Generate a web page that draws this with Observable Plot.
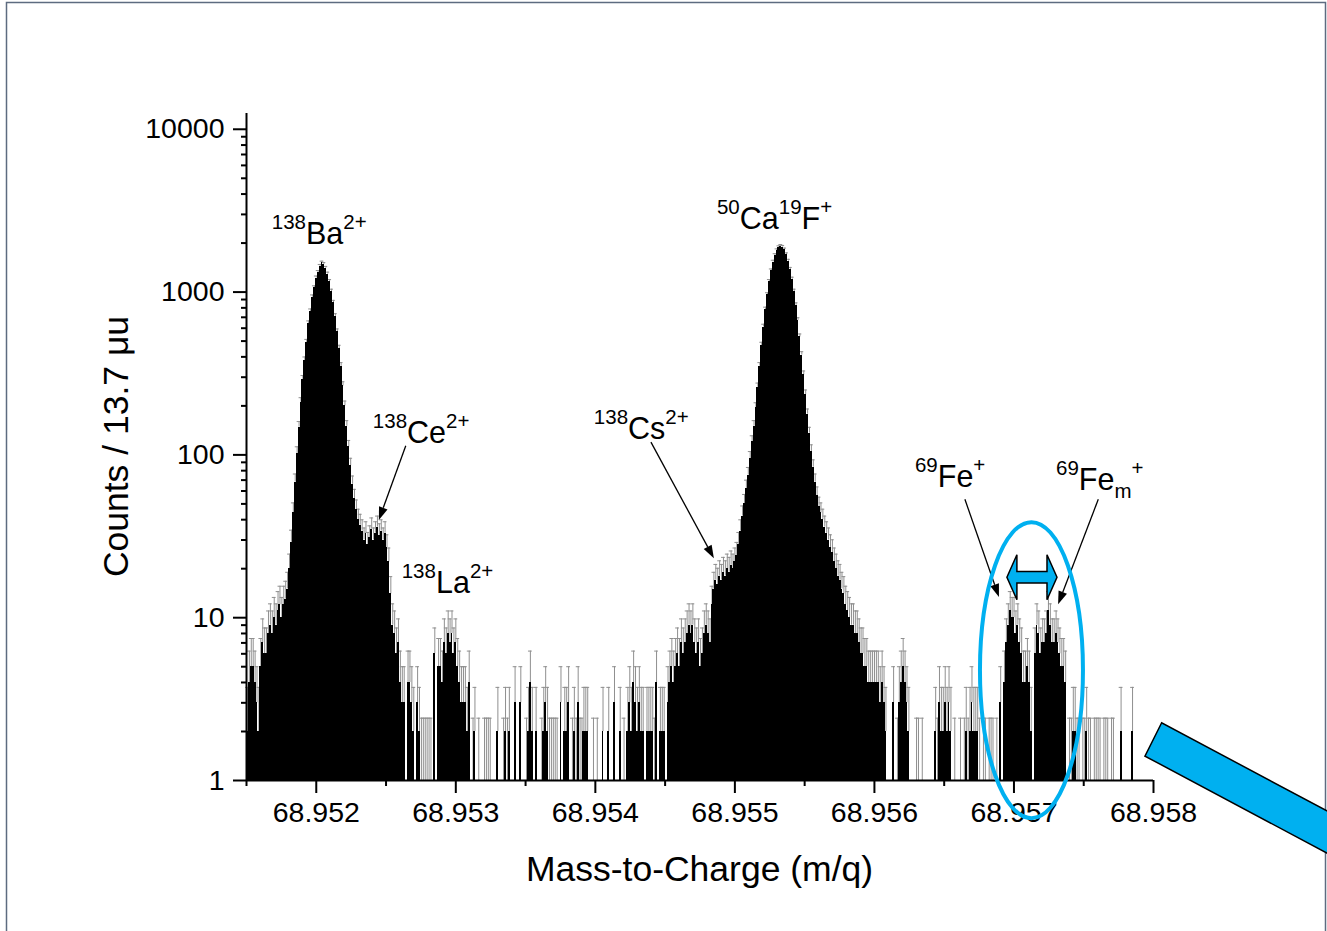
<!DOCTYPE html>
<html>
<head>
<meta charset="utf-8">
<script src="https://cdn.jsdelivr.net/npm/d3@7"></script>
<script src="https://cdn.jsdelivr.net/npm/@observablehq/plot@0.6"></script>
<style>
  html, body { margin: 0; padding: 0; background: #fff; overflow: hidden; }
  #chart { position: relative; width: 1327px; height: 931px; overflow: hidden; }
  #chart svg { font-family: "Liberation Sans", Arial, sans-serif; }
</style>
</head>
<body>
<div id="chart"></div>
<script>
// Histogram of counts per 13.7 µu bin, starting at m/q = 68.9515
const binWidth = 0.0000137;
const firstBinStart = 68.9515;

// 138Ba2+ peak with the 138Ce2+ shoulder and the 138La2+ bump (bins 0–119)
const baStart = 0;
const baCounts = [
  2, 4, 5, 5, 4, 3, 2, 5, 7, 6,
  6, 8, 9, 8, 10, 9, 11, 12, 10, 12,
  13, 15, 20, 29, 44, 68, 102, 148, 210, 290,
  380, 490, 640, 760, 930, 1060, 1220, 1320, 1440, 1510,
  1480, 1400, 1290, 1160, 1010, 860, 710, 570, 450, 350,
  265, 200, 150, 112, 86, 66, 54, 46, 40, 37,
  34, 30, 33, 28, 31, 35, 30, 33, 36, 32,
  34, 30, 33, 27, 22, 14, 9, 8, 6, 7,
  4, 3, 3, 0, 4, 4, 3, 2, 0, 3,
  2, 1, 1, 1, 1, 1, 1, 0, 6, 0,
  5, 5, 4, 7, 6, 8, 7, 8, 6, 7,
  5, 4, 3, 3, 3, 2, 4, 0, 1, 2
];

// sparse background between the two main peaks (bins 120–218)
const gapStart = 120;
const gapCounts = [
  0, 1, 0, 0, 1, 1, 1, 1, 0, 0,
  0, 2, 0, 0, 1, 2, 1, 2, 0, 0,
  3, 0, 0, 3, 0, 0, 1, 2, 4, 2,
  0, 2, 0, 0, 1, 2, 3, 2, 1, 1,
  1, 1, 1, 0, 3, 0, 2, 2, 3, 0,
  1, 2, 1, 3, 1, 1, 2, 2, 2, 0,
  0, 1, 0, 1, 0, 0, 2, 0, 0, 2,
  0, 0, 3, 0, 0, 2, 0, 1, 0, 2,
  3, 2, 4, 3, 2, 3, 2, 2, 0, 2,
  2, 2, 2, 1, 4, 0, 2, 2, 2
];

// 50Ca19F+ peak with the 138Cs2+ shoulder on its low-mass side (bins 219–348)
const caStart = 219;
const caCounts = [
  0, 3, 4, 5, 4, 5, 6, 5, 7, 6,
  7, 8, 9, 8, 9, 7, 6, 7, 5, 6,
  8, 9, 8, 7, 12, 15, 17, 16, 18, 17,
  19, 18, 20, 19, 21, 20, 22, 24, 28, 34,
  42, 50, 62, 75, 95, 120, 150, 195, 260, 350,
  470, 610, 780, 960, 1160, 1350, 1530, 1680, 1800, 1880,
  1915, 1890, 1820, 1700, 1550, 1380, 1200, 1010, 830, 670,
  530, 410, 310, 235, 178, 136, 105, 84, 68, 56,
  48, 44, 40, 36, 33, 30, 27, 25, 22, 20,
  18, 17, 15, 14, 12, 11, 10, 9, 9, 8,
  8, 7, 6, 6, 5, 5, 4, 4, 4, 4,
  4, 4, 3, 4, 3, 2, 0, 0, 0, 3,
  0, 1, 3, 4, 5, 4, 3, 2, 0
];

// 69Fe+ and 69Fe_m+ doublet and the high-mass tail (bins 349–464)
const feStart = 349;
const feCounts = [
  0, 1, 1, 0, 1, 0, 0, 0, 0, 0,
  0, 2, 1, 3, 2, 2, 3, 2, 3, 2,
  0, 1, 0, 0, 1, 0, 1, 2, 1, 2,
  3, 2, 2, 2, 1, 0, 1, 1, 0, 1,
  1, 1, 0, 1, 0, 3, 0, 4, 7, 9,
  11, 10, 10, 8, 9, 7, 6, 4, 4, 5,
  4, 2, 0, 6, 9, 8, 6, 7, 7, 8,
  11, 9, 7, 7, 8, 7, 6, 5, 5, 4,
  0, 1, 1, 2, 2, 1, 1, 0, 1, 1,
  2, 1, 1, 0, 1, 1, 1, 1, 0, 1,
  1, 1, 0, 1, 1, 0, 0, 0, 2, 0,
  0, 0, 0, 0, 2, 0
];

// axis ticks
const xTicks = [68.952, 68.953, 68.954, 68.955, 68.956, 68.957, 68.958];
const xMinorTicks = [68.9515, 68.9525, 68.9535, 68.9545, 68.9555, 68.9565, 68.9575];
const yTicks = [1, 10, 100, 1000, 10000];
const yMinorTicks = [1, 10, 100, 1000].flatMap(d => [2, 3, 4, 5, 6, 7, 8, 9].map(k => d * k));

// one record per bin
const bins = [];
for (const [start, counts] of [[baStart, baCounts], [gapStart, gapCounts], [caStart, caCounts], [feStart, feCounts]]) {
  counts.forEach((count, k) => {
    const x1 = firstBinStart + (start + k) * binWidth;
    bins.push({x1, x2: x1 + binWidth, xc: x1 + binWidth / 2, count, upper: count + Math.sqrt(count + 1)});
  });
}
const filled = bins.filter(d => d.count >= 1);

const font = '"Liberation Sans", Arial, sans-serif';
const errColor = "#8f8f8f";
const tickFont = 28.5;

const plot = Plot.plot({
  width: 1327,
  height: 931,
  marginLeft: 246,
  marginRight: 174,
  marginTop: 113,
  marginBottom: 151,
  style: {fontFamily: font, fontSize: "28px", color: "#000", background: "#fff", overflow: "hidden"},
  x: {domain: [68.9515, 68.958], label: null},
  y: {type: "log", domain: [1, 12500], label: null},
  marks: [
    // Poisson error bars (upper half) with caps, under the bars
    Plot.ruleX(filled, {x: "xc", y1: "count", y2: "upper", stroke: errColor, strokeWidth: 1}),
    Plot.ruleY(filled, {y: "upper", x1: d => d.xc - binWidth, x2: d => d.xc + binWidth, stroke: errColor, strokeWidth: 1}),
    // histogram bars
    Plot.rectY(filled, {x1: "x1", x2: "x2", y1: 1, y2: "count", fill: "#000", inset: 0, shapeRendering: "crispEdges"}),
    Plot.axisX(xTicks, {tickSize: 13, tickPadding: 8, tickFormat: d3.format(".3f"), strokeWidth: 2, fontSize: tickFont, label: null}),
    Plot.axisX(xMinorTicks, {tickSize: 6, tickFormat: () => "", strokeWidth: 2, label: null}),
    Plot.axisY(yTicks, {tickSize: 13, tickPadding: 9, tickFormat: d => String(d), strokeWidth: 2, fontSize: tickFont, label: null}),
    Plot.axisY(yMinorTicks, {tickSize: 5, tickFormat: () => "", strokeWidth: 2, label: null}),
    Plot.ruleY([1], {stroke: "#000", strokeWidth: 2}),
    Plot.ruleX([68.9515], {stroke: "#000", strokeWidth: 2})
  ]
});

document.getElementById("chart").appendChild(plot);

const X = v => plot.scale("x").apply(v);
const Y = v => plot.scale("y").apply(v);
const svg = d3.select(plot);

// outer frame
svg.append("rect")
  .attr("x", 6.5).attr("y", 2.5).attr("width", 1319).attr("height", 960)
  .attr("fill", "none").attr("stroke", "#5d6b80").attr("stroke-width", 1.5);

// axis titles
svg.append("text")
  .attr("x", (X(68.9515) + X(68.958)) / 2).attr("y", 881)
  .attr("text-anchor", "middle").attr("font-size", 35.5).attr("fill", "#000")
  .text("Mass-to-Charge (m/q)");
svg.append("text")
  .attr("transform", `translate(128,${(Y(1) + Y(12500)) / 2}) rotate(-90)`)
  .attr("text-anchor", "middle").attr("font-size", 35.5).attr("fill", "#000")
  .text("Counts / 13.7 μu");

// peak labels with isotope superscripts
function isotopeLabel(mz, count, parts) {
  const x = X(mz), y = Y(count);
  const t = svg.append("text").attr("x", x).attr("y", y).attr("fill", "#000")
    .attr("text-anchor", "start");
  for (const [txt, kind] of parts) {
    const s = t.append("tspan").text(txt);
    if (kind === "sup") s.attr("font-size", 20.5).attr("y", y - 15);
    else if (kind === "sub") s.attr("font-size", 20.5).attr("y", y + 8);
    else s.attr("font-size", 30.5).attr("y", y);
  }
}
isotopeLabel(68.951685, 1969, [["138", "sup"], ["Ba", ""], ["2+", "sup"]]);
isotopeLabel(68.954875, 2436, [["50", "sup"], ["Ca", ""], ["19", "sup"], ["F", ""], ["+", "sup"]]);
isotopeLabel(68.952409, 117, [["138", "sup"], ["Ce", ""], ["2+", "sup"]]);
isotopeLabel(68.952616, 14.0, [["138", "sup"], ["La", ""], ["2+", "sup"]]);
isotopeLabel(68.953993, 125, [["138", "sup"], ["Cs", ""], ["2+", "sup"]]);
isotopeLabel(68.956294, 62.8, [["69", "sup"], ["Fe", ""], ["+", "sup"]]);
isotopeLabel(68.957305, 60.1, [["69", "sup"], ["Fe", ""], ["m", "sub"], ["+", "sup"]]);

// pointer arrows with filled heads
function pointer(mz0, c0, mz1, c1) {
  const x0 = X(mz0), y0 = Y(c0), x1 = X(mz1), y1 = Y(c1);
  const dx = x1 - x0, dy = y1 - y0, len = Math.hypot(dx, dy);
  const ux = dx / len, uy = dy / len, hl = 13, hw = 4.5;
  const bx = x1 - ux * hl, by = y1 - uy * hl;
  svg.append("line").attr("x1", x0).attr("y1", y0).attr("x2", bx).attr("y2", by)
    .attr("stroke", "#000").attr("stroke-width", 1.3);
  svg.append("path")
    .attr("d", `M${x1},${y1}L${bx - uy * hw},${by + ux * hw}L${bx + uy * hw},${by - ux * hw}Z`)
    .attr("fill", "#000");
}
pointer(68.952645, 113, 68.952452, 39.5);   // Ce
pointer(68.954402, 119, 68.954853, 23.0);   // Cs
pointer(68.956652, 53, 68.956896, 13.3);    // Fe
pointer(68.957608, 53, 68.957320, 12.0);    // Fe_m

// highlight around the Fe doublet
const blue = "#00b0f0";
svg.append("ellipse")
  .attr("cx", X(68.957129)).attr("cy", Y(4.73)).attr("rx", 51.5).attr("ry", 148)
  .attr("fill", "none").attr("stroke", blue).attr("stroke-width", 4);

// double-headed arrow marking the isomer separation
{
  const xl = X(68.956953), xr = X(68.957312), yc = Y(17.6);
  const hl = 10, hh = 22.5, bh = 5.8;
  const pts = [
    [xl, yc], [xl + hl, yc - hh], [xl + hl, yc - bh], [xr - hl, yc - bh], [xr - hl, yc - hh],
    [xr, yc], [xr - hl, yc + hh], [xr - hl, yc + bh], [xl + hl, yc + bh], [xl + hl, yc + hh]
  ];
  svg.append("path").attr("d", "M" + pts.map(p => p.join(",")).join("L") + "Z")
    .attr("fill", blue).attr("stroke", "#000").attr("stroke-width", 1.5).attr("stroke-linejoin", "miter");
}

// large pointer entering from the lower right
{
  const ax = X(68.958062), ay = Y(2.246);
  const ux = 0.8826, uy = 0.4704, L = 300;
  const bx = ax - 16.7, by = ay + 33.3;
  const pts = [[ax, ay], [bx, by], [bx + ux * L, by + uy * L], [ax + ux * L, ay + uy * L]];
  svg.append("path").attr("d", "M" + pts.map(p => p.join(",")).join("L") + "Z")
    .attr("fill", blue).attr("stroke", "#000").attr("stroke-width", 1.5);
}
</script>
</body>
</html>
